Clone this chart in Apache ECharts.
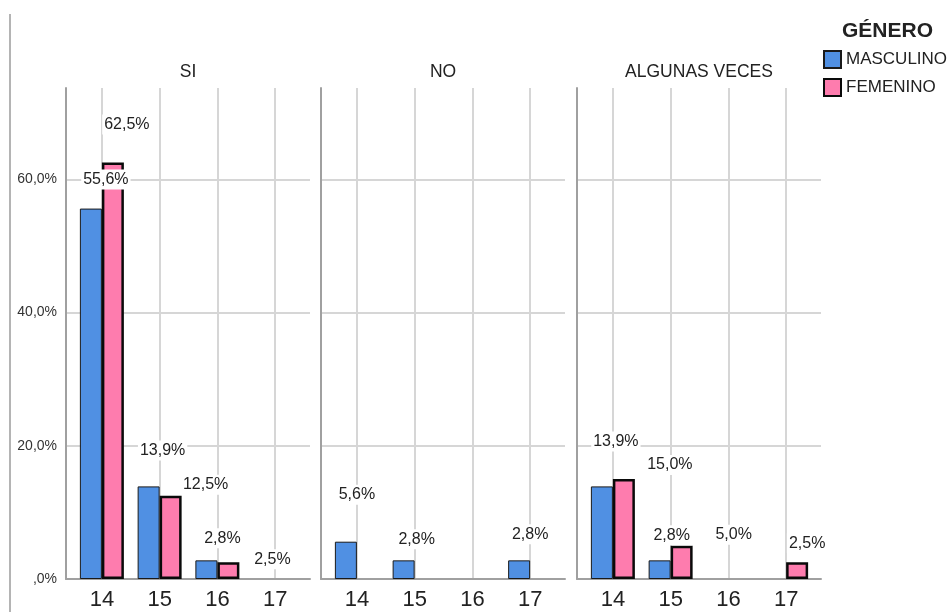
<!DOCTYPE html>
<html>
<head>
<meta charset="utf-8">
<script src="https://cdn.jsdelivr.net/npm/echarts@6/dist/echarts.min.js"></script>
<style>
  html, body { margin: 0; padding: 0; background: #fff; }
  #chart { width: 951px; height: 612px; }
</style>
</head>
<body>
<div id="chart"></div>
<script>
// ---- data ----
const categories = ['14', '15', '16', '17'];
const panelTitles = ['SI', 'NO', 'ALGUNAS VECES'];
const seriesNames = ['MASCULINO', 'FEMENINO'];
const masculinoSi = [55.6, 13.9, 2.8, 0];
const masculinoNo = [5.6, 2.8, 0, 2.8];
const masculinoAlgunas = [13.9, 2.8, 0, 0];
const femeninoSi = [62.5, 12.5, 2.5, 0];
const femeninoNo = [0, 0, 0, 0];
const femeninoAlgunas = [15.0, 5.0, 0, 2.5];
const yTicks = [0, 20, 40, 60];

// ---- layout / style ----
const FONT = "'Liberation Sans', Arial, sans-serif";
const Y_MAX = 73.7;
const FRAME_LEFT = [66, 321, 577];
const FRAME_W = 244;
const INSET = 7;
const TOP = 88, HEIGHT = 491;
const BLUE = '#5090e3', PINK = '#fe7cae';
// label nudges: [dx from bar centre, distance of label centre above bar top]
const NUDGE_M = [
  [[15, 29], [14, 36], [16, 22], null],
  [[11, 47], [13, 21], null, [11, 26]],
  [[14, 45], [12, 25], null, null]
];
const NUDGE_F = [
  [[14, 38], [35, 11], [44, 3], null],
  [null, null, null, null],
  [[46, 14], [52, 11], null, [10, 19]]
];

const mascByPanel = [masculinoSi, masculinoNo, masculinoAlgunas];
const femByPanel = [femeninoSi, femeninoNo, femeninoAlgunas];

const fmt = v => (v === 0 ? ',0' : v.toFixed(1).replace('.', ',')) + '%';

const grids = [], xAxes = [], yAxes = [], series = [], graphics = [];

// frame grids (0..2)
FRAME_LEFT.forEach((l, p) => {
  grids.push({ left: l, top: TOP, width: FRAME_W, height: HEIGHT });
  xAxes.push({
    type: 'value', gridIndex: p, min: 0, max: 1,
    axisLine: { show: true, lineStyle: { color: '#a0a0a0', width: 2 } },
    axisTick: { show: false }, axisLabel: { show: false }, splitLine: { show: false }
  });
  yAxes.push({
    type: 'value', gridIndex: p, min: 0, max: Y_MAX, interval: 20,
    axisLine: { show: true, lineStyle: { color: '#a0a0a0', width: 2 } },
    axisTick: { show: false },
    axisLabel: {
      show: p === 0, showMaxLabel: false, margin: 9,
      fontFamily: FONT, fontSize: 14, color: '#333',
      formatter: v => yTicks.includes(v) ? fmt(v) : ''
    },
    splitLine: { show: true, showMaxLine: false, lineStyle: { color: '#d6d6d6', width: 2 } }
  });
  graphics.push({
    type: 'text', x: l + FRAME_W / 2, y: 72, silent: true,
    style: {
      text: panelTitles[p], fill: '#222', font: '17.5px ' + FONT,
      textAlign: 'center', textVerticalAlign: 'middle', align: 'center', verticalAlign: 'middle'
    }
  });
});

// bar grids (3..5)
FRAME_LEFT.forEach((l, p) => {
  const gi = 3 + p;
  grids.push({ left: l + INSET, top: TOP, width: FRAME_W - 2 * INSET + 1, height: HEIGHT });
  xAxes.push({
    type: 'category', gridIndex: gi, data: categories,
    axisLine: { show: false }, axisTick: { show: false },
    axisLabel: { fontFamily: FONT, fontSize: 22, color: '#222', margin: 10 },
    splitLine: { show: true, alignWithLabel: true, lineStyle: { color: '#d6d6d6', width: 2 } }
  });
  yAxes.push({ type: 'value', gridIndex: gi, min: 0, max: Y_MAX, show: false });

  const mk = (vals, nudges) => vals.map((v, i) => {
    if (v === 0) return null;
    const n = nudges[i] || [0, 12];
    return { value: v, label: { show: true, offset: [n[0], -(n[1] - 10)] } };
  });

  const labelBase = {
    show: false, position: 'top', distance: 0,
    fontFamily: FONT, fontSize: 16, color: '#222', lineHeight: 18,
    backgroundColor: '#fff', padding: [1, 2],
    formatter: params => fmt(params.value)
  };

  series.push({
    type: 'bar', name: seriesNames[0], xAxisIndex: gi, yAxisIndex: gi,
    barWidth: 22, barGap: '0%',
    itemStyle: { color: BLUE, borderColor: '#1a1a1a', borderWidth: 1 },
    label: labelBase,
    data: mk(mascByPanel[p], NUDGE_M[p])
  });
  series.push({
    type: 'bar', name: seriesNames[1], xAxisIndex: gi, yAxisIndex: gi,
    barWidth: 22, barGap: '0%',
    itemStyle: { color: PINK, borderColor: '#0a0a0a', borderWidth: 2.5 },
    label: labelBase,
    data: mk(femByPanel[p], NUDGE_F[p])
  });
});

graphics.push({
  type: 'line', silent: true, z: -1,
  shape: { x1: 10, y1: 14, x2: 10, y2: 612 },
  style: { stroke: '#b4b4b4', lineWidth: 2 }
});

const chart = echarts.init(document.getElementById('chart'), null, { renderer: 'canvas' });
chart.setOption({
  animation: false,
  backgroundColor: '#fff',
  title: {
    text: 'GÉNERO', left: 842, top: 21, padding: 0,
    textStyle: { fontFamily: FONT, fontSize: 21, fontWeight: 'bold', color: '#222' }
  },
  legend: {
    data: seriesNames, orient: 'vertical', left: 823, top: 50, padding: 0,
    icon: 'rect', itemWidth: 17, itemHeight: 17, itemGap: 9,
    textStyle: { fontFamily: FONT, fontSize: 17, color: '#222' }
  },
  grid: grids,
  xAxis: xAxes,
  yAxis: yAxes,
  series: series,
  graphic: graphics
});
</script>
</body>
</html>
